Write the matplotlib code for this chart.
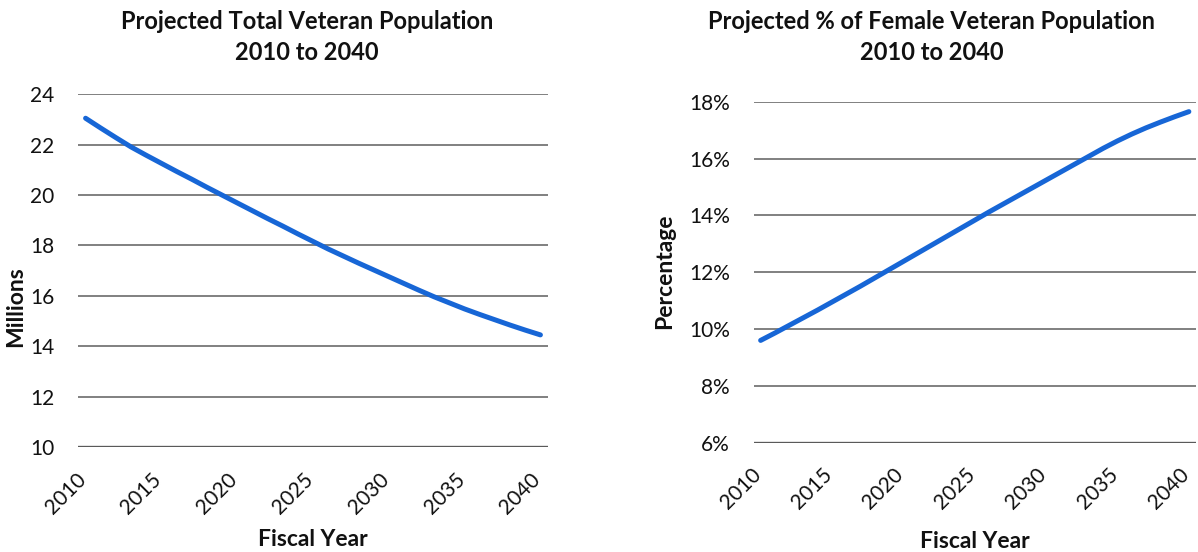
"""Projected veteran population charts, 2010 to 2040 (two panels)."""

import matplotlib
matplotlib.use("Agg")
import matplotlib.pyplot as plt
import matplotlib.transforms as mtransforms
from matplotlib.ticker import FuncFormatter

years = list(range(2010, 2041))
tick_years = [2010, 2015, 2020, 2025, 2030, 2035, 2040]

# Total veteran population, millions
total_vets = [
    23.05, 22.66, 22.28, 21.91, 21.58, 21.26, 20.94, 20.63, 20.31, 20.00,
    19.69, 19.38, 19.07, 18.77, 18.46, 18.16, 17.86, 17.58, 17.30, 17.03,
    16.76, 16.49, 16.22, 15.96, 15.72, 15.48, 15.26, 15.05, 14.84, 14.64,
    14.45,
]

# Female share of veteran population, percent
female_pct = [
    9.60, 9.86, 10.13, 10.40, 10.67, 10.95, 11.23, 11.51, 11.80, 12.09,
    12.38, 12.67, 12.96, 13.25, 13.54, 13.83, 14.12, 14.40, 14.68, 14.96,
    15.24, 15.52, 15.80, 16.08, 16.36, 16.62, 16.86, 17.08, 17.28, 17.47,
    17.65,
]

left_yticks = [10, 12, 14, 16, 18, 20, 22, 24]
right_yticks = [6, 8, 10, 12, 14, 16, 18]

LINE_COLOR = "#1766D6"
GRID_COLOR = "#808080"
BASE_COLOR = "#5A5A5A"
TEXT_COLOR = "#111111"

plt.rcParams["font.family"] = ["Lato", "DejaVu Sans"]

W, H = 1198, 552
fig = plt.figure(figsize=(W / 100, H / 100), dpi=100)


def px_axes(x0, x1, y_top, y_bot):
    return fig.add_axes([x0 / W, 1 - y_bot / H, (x1 - x0) / W, (y_bot - y_top) / H])


def style_axes(ax, yticks, ylim):
    ax.set_xlim(2009.5, 2040.5)
    ax.set_ylim(*ylim)
    ax.set_yticks(yticks)
    ax.set_xticks(tick_years)
    ax.set_xticklabels([])
    ax.tick_params(axis="both", length=0, labelsize=15, colors=TEXT_COLOR)
    ax.tick_params(axis="y", pad=17)
    for s in ax.spines.values():
        s.set_visible(False)
    for y in yticks[1:]:
        ax.axhline(y, color=GRID_COLOR, lw=1.4, zorder=1)
    ax.axhline(yticks[0], color=BASE_COLOR, lw=2.4, zorder=1)
    # rotated year labels, hung below the base line (Excel style)
    base = mtransforms.blended_transform_factory(ax.transData, ax.transAxes)
    trans = mtransforms.offset_copy(base, fig=fig, x=-10, y=-22, units="dots")
    for yr in tick_years:
        ax.text(yr, 0, str(yr), transform=trans, rotation=45, ha="right", va="top",
                rotation_mode="anchor", fontsize=15, color=TEXT_COLOR)


# left panel
ax1 = px_axes(78, 548, 94.3, 447)
style_axes(ax1, left_yticks, (10, 24))
ax1.plot(years, total_vets, color=LINE_COLOR, lw=3.6, solid_capstyle="round", zorder=3)

# right panel
ax2 = px_axes(753.5, 1196, 101.7, 442.7)
style_axes(ax2, right_yticks, (6, 18))
ax2.yaxis.set_major_formatter(FuncFormatter(lambda v, _: f"{v:.0f}%"))
ax2.plot(years, female_pct, color=LINE_COLOR, lw=3.6, solid_capstyle="round", zorder=3)

# titles and axis labels
title_kw = dict(ha="center", va="center", fontsize=17, fontweight="bold", color=TEXT_COLOR,
                linespacing=1.45)
fig.text(307 / W, 1 - 37 / H, "Projected Total Veteran Population\n2010 to 2040", **title_kw)
fig.text(932 / W, 1 - 37 / H, "Projected % of Female Veteran Population\n2010 to 2040", **title_kw)

lab_kw = dict(ha="center", va="center", fontsize=16.5, fontweight="bold", color=TEXT_COLOR)
fig.text(313 / W, 1 - 540 / H, "Fiscal Year", **lab_kw)
fig.text(975 / W, 1 - 541 / H, "Fiscal Year", **lab_kw)
fig.text(16 / W, 1 - 307 / H, "Millions", rotation=90, **lab_kw)
fig.text(665 / W, 1 - 271 / H, "Percentage", rotation=90, **lab_kw)

fig.savefig("out.png", dpi=100)
plt.close(fig)
